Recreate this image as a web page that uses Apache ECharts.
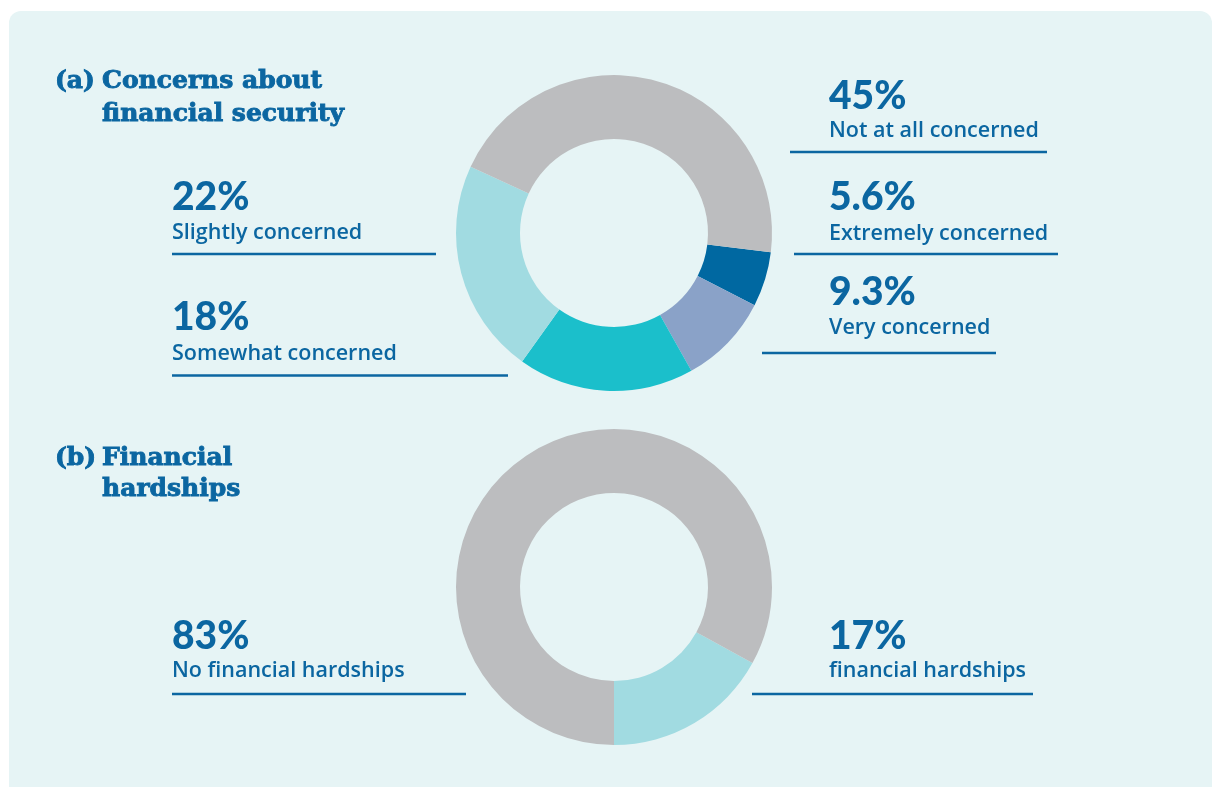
<!DOCTYPE html>
<html>
<head>
<meta charset="utf-8">
<script src="https://cdn.jsdelivr.net/npm/echarts@6/dist/echarts.min.js"></script>
<style>
  html, body { margin: 0; padding: 0; background: #ffffff; }
  #chart { width: 1214px; height: 787px; }
</style>
</head>
<body>
<div id="chart"></div>
<script>
// Panel (a): concerns about financial security
const concernCategories = ['Extremely concerned', 'Very concerned', 'Somewhat concerned', 'Slightly concerned', 'Not at all concerned'];
const concernValues = [5.6, 9.3, 18, 22, 45];

// Panel (b): financial hardships
const hardshipCategories = ['financial hardships', 'No financial hardships'];
const hardshipValues = [17, 83];

const concernColors = ['#0068a1', '#8aa2c8', '#1bbfcb', '#a1dbe1', '#bcbdbf'];
const hardshipColors = ['#a1dbe1', '#bcbdbf'];

const BLUE = '#0b66a1';
const NUM_FONT = '900 39px Lato';
const LBL_FONT = '600 21.5px "Open Sans"';
const TITLE_FONT = 'bold 25px "DejaVu Serif"';

// Callout placement for each category: text left x, number/label centre y, underline span
const concernCallouts = {
  'Not at all concerned': { x: 829, ny: 96,    ly: 131,   line: [790, 1047, 152] },
  'Extremely concerned':  { x: 829, ny: 197.5, ly: 233.5, line: [794, 1058, 254] },
  'Very concerned':       { x: 829, ny: 292.5, ly: 328,   line: [762, 996, 353] },
  'Slightly concerned':   { x: 172, ny: 197,   ly: 233,   line: [172, 436, 254] },
  'Somewhat concerned':   { x: 172, ny: 317.5, ly: 354,   line: [172, 508, 375.5] }
};
const hardshipCallouts = {
  'No financial hardships': { x: 172, ny: 636, ly: 671, line: [172, 466, 694] },
  'financial hardships':    { x: 829, ny: 636, ly: 671, line: [752, 1033, 694] }
};

function callouts(categories, values, layout) {
  const out = [];
  categories.forEach((name, i) => {
    const p = layout[name];
    out.push({
      type: 'text', silent: true,
      style: { text: values[i] + '%', x: p.x, y: p.ny, font: NUM_FONT, fill: BLUE, textAlign: 'left', textVerticalAlign: 'middle' }
    });
    out.push({
      type: 'text', silent: true,
      style: { text: name, x: p.x, y: p.ly, font: LBL_FONT, fill: BLUE, textAlign: 'left', textVerticalAlign: 'middle' }
    });
    out.push({
      type: 'line', silent: true,
      shape: { x1: p.line[0], y1: p.line[2], x2: p.line[1], y2: p.line[2] },
      style: { stroke: BLUE, lineWidth: 2.4 }
    });
  });
  return out;
}

function titleText(text, x, y) {
  return {
    type: 'text', silent: true,
    style: {
      text: text, x: x, y: y, font: TITLE_FONT, fill: BLUE,
      stroke: BLUE, lineWidth: 0.9,
      textAlign: 'left', textVerticalAlign: 'middle'
    }
  };
}

const chart = echarts.init(document.getElementById('chart'), null, { renderer: 'canvas' });

const graphics = [
  {
    type: 'rect', silent: true, z: -10,
    shape: { x: 9, y: 11, width: 1203, height: 800, r: 12 },
    style: { fill: '#e6f4f5' }
  },
  titleText('(a)', 55, 81),
  titleText('Concerns about', 102, 81),
  titleText('financial security', 102, 114),
  titleText('(b)', 55, 458),
  titleText('Financial', 102, 458),
  titleText('hardships', 102, 489)
].concat(
  callouts(concernCategories, concernValues, concernCallouts),
  callouts(hardshipCategories, hardshipValues, hardshipCallouts)
);

chart.setOption({
  animation: false,
  backgroundColor: '#ffffff',
  graphic: { elements: graphics },
  series: [
    {
      name: 'Concerns about financial security',
      type: 'pie',
      center: [614, 233],
      radius: [94, 158],
      startAngle: 353,
      clockwise: true,
      avoidLabelOverlap: false,
      label: { show: false },
      labelLine: { show: false },
      emphasis: { disabled: true },
      itemStyle: { borderWidth: 0 },
      data: concernCategories.map((c, i) => ({ name: c, value: concernValues[i], itemStyle: { color: concernColors[i] } }))
    },
    {
      name: 'Financial hardships',
      type: 'pie',
      center: [614, 587],
      radius: [94, 158],
      startAngle: 331.2,
      clockwise: true,
      avoidLabelOverlap: false,
      label: { show: false },
      labelLine: { show: false },
      emphasis: { disabled: true },
      itemStyle: { borderWidth: 0 },
      data: hardshipCategories.map((c, i) => ({ name: c, value: hardshipValues[i], itemStyle: { color: hardshipColors[i] } }))
    }
  ]
});
</script>
</body>
</html>
